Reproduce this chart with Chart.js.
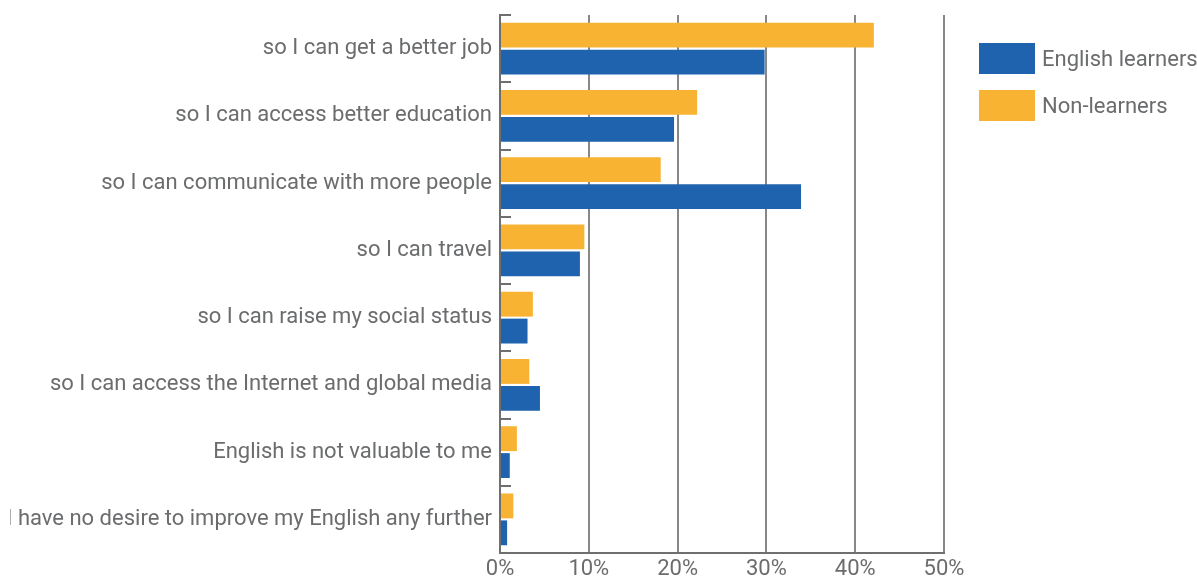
<!DOCTYPE html>
<html>
<head>
<meta charset="utf-8">
<script src="https://cdn.jsdelivr.net/npm/chart.js@4.4.1/dist/chart.umd.min.js"></script>
<style>
  html, body { margin: 0; padding: 0; background: #fff; }
  #wrap { width: 1197px; height: 578px; position: relative; }
  #legend { position: absolute; left: 979px; top: 43px; font: 400 22px Roboto, sans-serif; color: #6b6c6e; white-space: nowrap; }
  #legend .item { display: flex; align-items: center; height: 31px; margin-bottom: 16px; }
  #legend .swatch { width: 56px; height: 31px; margin-right: 7px; flex: none; }
</style>
</head>
<body>
<div id="wrap">
  <canvas id="reasonsChart"></canvas>
  <div id="legend"></div>
</div>
<script>
// Reasons for learning English (% of respondents)
const reasons = [
  'so I can get a better job',
  'so I can access better education',
  'so I can communicate with more people',
  'so I can travel',
  'so I can raise my social status',
  'so I can access the Internet and global media',
  'English is not valuable to me',
  'I have no desire to improve my English any further'
];
const nonLearners = [42.1, 22.2, 18.1, 9.5, 3.7, 3.3, 1.9, 1.5];
const englishLearners = [29.8, 19.6, 33.9, 9.0, 3.1, 4.5, 1.1, 0.8];
const xTicks = [0, 10, 20, 30, 40, 50];

const textColor = '#6b6c6e';
const axisColor = '#6f6f6f';
const gridColor = '#888888';
const labelFont = { family: 'Roboto', size: 22, weight: 400 };

// small inward tick marks between categories on the y axis
const categoryTicks = {
  id: 'categoryTicks',
  afterDraw(chart) {
    const y = chart.scales.y;
    const left = chart.chartArea.left;
    const step = (y.bottom - y.top) / reasons.length;
    const c = chart.ctx;
    c.save();
    c.strokeStyle = axisColor;
    c.lineWidth = 2;
    for (let i = 0; i <= reasons.length; i++) {
      const py = Math.round(y.top + i * step);
      c.beginPath();
      c.moveTo(left - 1, py);
      c.lineTo(left + 11, py);
      c.stroke();
    }
    c.restore();
  }
};

const ctx = document.getElementById('reasonsChart').getContext('2d');
const chart = new Chart(ctx, {
  type: 'bar',
  data: {
    labels: reasons,
    datasets: [{
      label: 'Non-learners',
      data: nonLearners,
      backgroundColor: '#f8b332',
      categoryPercentage: 0.8,
      barPercentage: 0.925
    }, {
      label: 'English learners',
      data: englishLearners,
      backgroundColor: '#1f63ae',
      categoryPercentage: 0.8,
      barPercentage: 0.925
    }]
  },
  options: {
    indexAxis: 'y',
    responsive: true,
    maintainAspectRatio: false,
    animation: false,
    layout: { padding: { top: 15, left: 10, right: 253, bottom: -7 } },
    scales: {
      x: {
        min: xTicks[0],
        max: xTicks[xTicks.length - 1],
        afterBuildTicks: (scale) => { scale.ticks = xTicks.map(v => ({ value: v })); },
        ticks: {
          color: textColor,
          font: { ...labelFont, lineHeight: 1 },
          padding: 5,
          callback: (v) => v + '%'
        },
        grid: { color: gridColor, lineWidth: 2, drawTicks: false },
        border: { display: true, color: axisColor, width: 2 }
      },
      y: {
        afterFit: (scale) => {
          scale.width = 490;
          scale.paddingTop = 0;
          scale.paddingBottom = 0;
        },
        ticks: {
          color: textColor,
          font: labelFont,
          padding: 8
        },
        grid: { display: false, drawTicks: false },
        border: { display: true, color: axisColor, width: 2 }
      }
    },
    plugins: {
      legend: { display: false },
      tooltip: { enabled: false }
    }
  },
  plugins: [categoryTicks]
});

// legend, English learners listed first
const legend = document.getElementById('legend');
chart.data.datasets.slice().reverse().forEach(ds => {
  const item = document.createElement('div');
  item.className = 'item';
  const swatch = document.createElement('span');
  swatch.className = 'swatch';
  swatch.style.background = ds.backgroundColor;
  const text = document.createElement('span');
  text.innerText = ds.label;
  item.appendChild(swatch);
  item.appendChild(text);
  legend.appendChild(item);
});
</script>
</body>
</html>
